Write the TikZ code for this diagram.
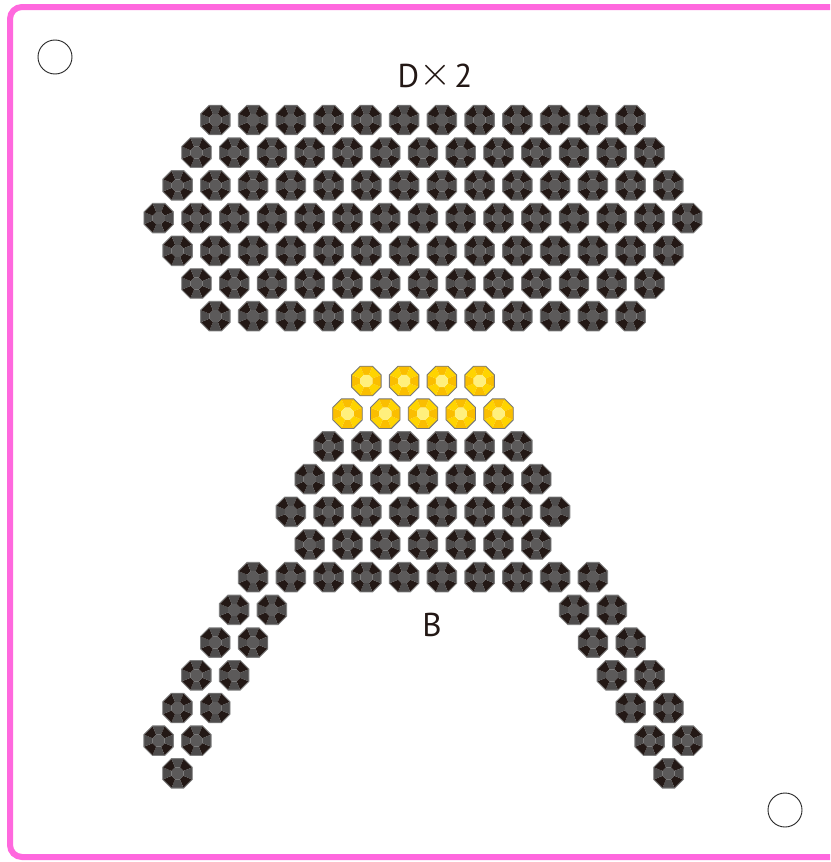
\documentclass[tikz,border=0pt]{standalone}
\usepackage{fontspec}
\setmainfont{PT Sans}
\usepackage{graphicx}
\usepackage{tikz}
\definecolor{frameP}{RGB}{255,104,222}
\definecolor{bkDark}{RGB}{35,24,21}
\definecolor{bkGray}{RGB}{78,76,76}
\definecolor{bkCore}{RGB}{92,90,90}
\definecolor{bkEdge}{RGB}{128,128,128}
\definecolor{ylA}{RGB}{255,212,0}
\definecolor{ylB}{RGB}{250,190,0}
\definecolor{ylCore}{RGB}{255,240,125}
\definecolor{ylEdge}{RGB}{120,120,120}
\tikzset{
  pics/bead/.style n args={4}{code={
    \foreach \k/\fc in {0/#1,1/#2,2/#1,3/#2,4/#1,5/#2,6/#1,7/#2}
      \fill[\fc] (22.5+45*\k:6.5) -- (22.5+45*\k:16) -- (67.5+45*\k:16) -- (67.5+45*\k:6.5) -- cycle;
    \fill[#3] (22.5:6.5) -- (67.5:6.5) -- (112.5:6.5) -- (157.5:6.5)
      -- (202.5:6.5) -- (247.5:6.5) -- (292.5:6.5) -- (337.5:6.5) -- cycle;
    \draw[#4, line width=0.9pt] (22.5:16) -- (67.5:16) -- (112.5:16) -- (157.5:16)
      -- (202.5:16) -- (247.5:16) -- (292.5:16) -- (337.5:16) -- cycle;
  }},
  hole/.style={draw=black!85, line width=0.9pt},
  lbl/.style={text=bkDark, font=\fontsize{33}{38}\selectfont, inner sep=0pt}
}
\begin{document}
\begin{tikzpicture}[x=1pt, y=-1pt]
  \useasboundingbox (0,0) rectangle (830,862);
  \clip (0,0) rectangle (830,862);
  \fill[white] (0,0) rectangle (830,862);
  % frame and holes
  \draw[frameP, line width=6pt, rounded corners=12pt] (10,7) rectangle (845,857);
  \draw[hole] (55,57) circle (17);
  \draw[hole] (785,810) circle (17);
  \node[lbl] (dlbl) at (435,75) {D\raisebox{2pt}{\resizebox{32pt}{!}{$\times$}}\hspace{3pt}2};
  \node[lbl] (blbl) at (432,625) {B};
  % part D
  \foreach \n [count=\i from 0] in {12,13,14,15,14,13,12}
    \foreach \j in {1,...,\n}
      \pic at ({423+(\j-(\n+1)/2)*37.75}, {120+\i*32.7}) {bead={bkDark}{bkGray}{bkCore}{bkEdge}};
  % part B, yellow top
  \foreach \n [count=\i from 0] in {4,5}
    \foreach \j in {1,...,\n}
      \pic at ({423+(\j-(\n+1)/2)*37.75}, {381+\i*32.7}) {bead={ylA}{ylB}{ylCore}{ylEdge}};
  % part B, body
  \foreach \n [count=\i from 2] in {6,7,8,7,10}
    \foreach \j in {1,...,\n}
      \pic at ({423+(\j-(\n+1)/2)*37.75}, {381+\i*32.7}) {bead={bkDark}{bkGray}{bkCore}{bkEdge}};
  % legs
  \foreach \k in {1,...,5} {
    \pic at ({253-\k*18.875}, {577.2+\k*32.7}) {bead={bkDark}{bkGray}{bkCore}{bkEdge}};
    \pic at ({290.75-\k*18.875}, {577.2+\k*32.7}) {bead={bkDark}{bkGray}{bkCore}{bkEdge}};
    \pic at ({593+\k*18.875}, {577.2+\k*32.7}) {bead={bkDark}{bkGray}{bkCore}{bkEdge}};
    \pic at ({555.25+\k*18.875}, {577.2+\k*32.7}) {bead={bkDark}{bkGray}{bkCore}{bkEdge}};
  }
  \pic at (177.5,773.4) {bead={bkDark}{bkGray}{bkCore}{bkEdge}};
  \pic at (668.5,773.4) {bead={bkDark}{bkGray}{bkCore}{bkEdge}};
\end{tikzpicture}
\end{document}
